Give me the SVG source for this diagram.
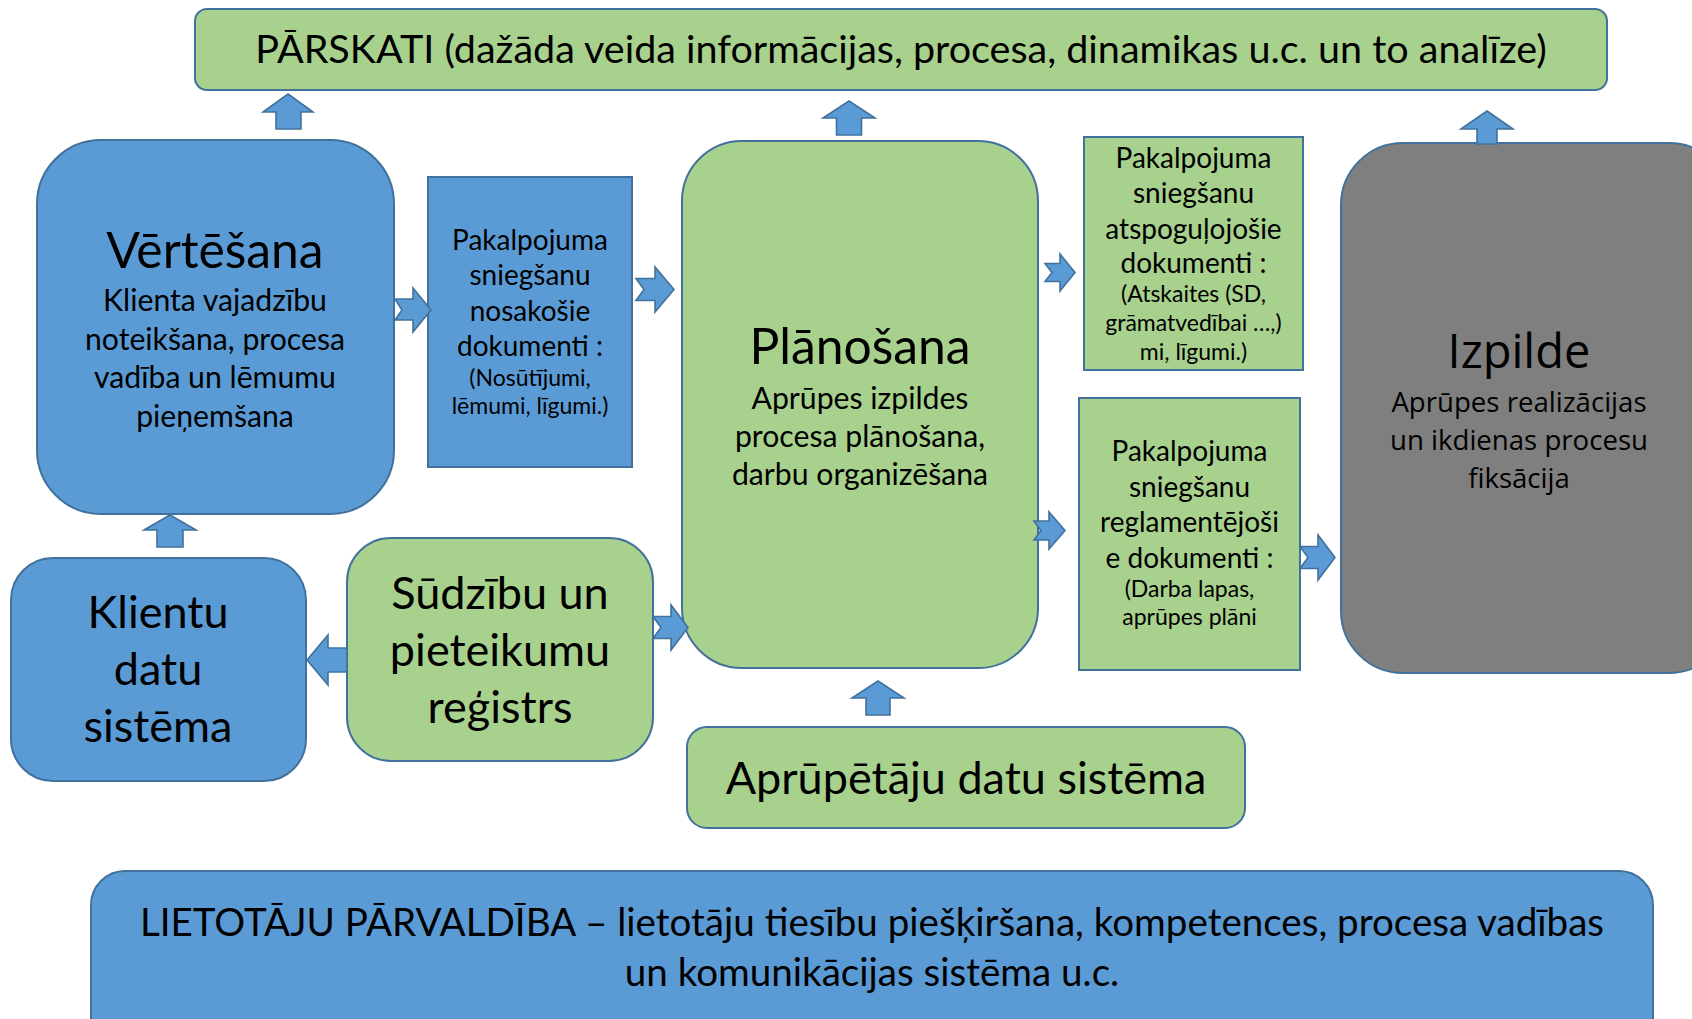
<svg xmlns="http://www.w3.org/2000/svg" width="1692" height="1019" viewBox="0 0 1692 1019">
<style>
.blue{fill:#5B9BD5;stroke:#41719C;stroke-width:2}
.green{fill:#A9D18E;stroke:#41719C;stroke-width:2}
.gray{fill:#7F7F7F;stroke:#41719C;stroke-width:2}
.arr{fill:#5B9BD5;stroke:#41719C;stroke-width:1.6;stroke-linejoin:miter}
text{font-family:Lato,"Noto Sans",sans-serif;fill:#000;text-anchor:middle}
.t1{font-size:49.8px}
.sub{font-size:30.2px}
.doc{font-size:28px}
.sm{font-size:23px}
.big{font-size:45px}
.os{font-family:"Open Sans","Noto Sans",sans-serif}
</style>
<rect width="1692" height="1019" fill="#fff"/>
<g id="parskati">
<rect class="green" x="195" y="9" width="1412" height="81" rx="12"/>
<text x="901" y="63" style="font-size:39.5px">PĀRSKATI (dažāda veida informācijas, procesa, dinamikas u.c. un to analīze)</text>
</g>
<g id="vertesana">
<rect class="blue" x="37" y="140" width="357" height="374" rx="64"/>
<text class="t1" x="215" y="268">Vērtēšana</text>
<text class="sub" x="215" y="311">Klienta vajadzību</text>
<text class="sub" x="215" y="350">noteikšana, procesa</text>
<text class="sub" x="215" y="388">vadība un lēmumu</text>
<text class="sub" x="215" y="427">pieņemšana</text>
</g>
<g id="doc-nosakosie">
<rect class="blue" x="428" y="177" width="204" height="290"/>
<text class="doc" x="530" y="250">Pakalpojuma</text>
<text class="doc" x="530" y="285">sniegšanu</text>
<text class="doc" x="530" y="321">nosakošie</text>
<text class="doc" x="530" y="356">dokumenti :</text>
<text class="sm" x="530" y="386">(Nosūtījumi,</text>
<text class="sm" x="530" y="414">lēmumi, līgumi.)</text>
</g>
<g id="planosana">
<rect class="green" x="682" y="141" width="356" height="527" rx="60"/>
<text class="t1" x="860" y="364">Plānošana</text>
<text class="sub" x="860" y="409">Aprūpes izpildes</text>
<text class="sub" x="860" y="447">procesa plānošana,</text>
<text class="sub" x="860" y="485">darbu organizēšana</text>
</g>
<g id="doc-atspogulojosie">
<rect class="green" x="1084" y="137" width="219" height="233"/>
<text class="doc" x="1193.5" y="168">Pakalpojuma</text>
<text class="doc" x="1193.5" y="203">sniegšanu</text>
<text class="doc" x="1193.5" y="239">atspoguļojošie</text>
<text class="doc" x="1193.5" y="273">dokumenti :</text>
<text class="sm" x="1193.5" y="302">(Atskaites (SD,</text>
<text class="sm" x="1193.5" y="331">grāmatvedībai …,)</text>
<text class="sm" x="1193.5" y="360">mi, līgumi.)</text>
</g>
<g id="doc-reglamentejosie">
<rect class="green" x="1079" y="398" width="221" height="272"/>
<text class="doc" x="1189.5" y="461">Pakalpojuma</text>
<text class="doc" x="1189.5" y="497">sniegšanu</text>
<text class="doc" x="1189.5" y="532">reglamentējoši</text>
<text class="doc" x="1189.5" y="568">e dokumenti :</text>
<text class="sm" x="1189.5" y="597">(Darba lapas,</text>
<text class="sm" x="1189.5" y="625">aprūpes plāni</text>
</g>
<g id="izpilde">
<rect class="gray" x="1341" y="143" width="390" height="530" rx="62"/>
<text class="os" x="1519" y="368" style="font-size:47px">Izpilde</text>
<text class="os" x="1519" y="412" style="font-size:27.6px">Aprūpes realizācijas</text>
<text class="os" x="1519" y="450" style="font-size:27.6px">un ikdienas procesu</text>
<text class="os" x="1519" y="488" style="font-size:27.6px">fiksācija</text>
</g>
<g id="klientu">
<rect class="blue" x="11" y="558" width="295" height="223" rx="42"/>
<text class="big" x="158" y="628">Klientu</text>
<text class="big" x="158" y="685">datu</text>
<text class="big" x="158" y="742">sistēma</text>
</g>
<g id="sudzibu">
<rect class="green" x="347" y="538" width="306" height="223" rx="44"/>
<text class="big" x="500" y="609">Sūdzību un</text>
<text class="big" x="500" y="666">pieteikumu</text>
<text class="big" x="500" y="723">reģistrs</text>
</g>
<g id="aprupetaju">
<rect class="green" x="687" y="727" width="558" height="101" rx="20"/>
<text x="966" y="794" style="font-size:45px">Aprūpētāju datu sistēma</text>
</g>
<g id="lietotaju">
<rect class="blue" x="91" y="871" width="1562" height="180" rx="34"/>
<text x="872" y="936" style="font-size:38.6px">LIETOTĀJU PĀRVALDĪBA – lietotāju tiesību piešķiršana, kompetences, procesa vadības</text>
<text x="872" y="986" style="font-size:38.6px">un komunikācijas sistēma u.c.</text>
</g>
<g id="connectors">
<polygon class="arr" points="288,94 313,112 301,112 301,129 276,129 276,112 263,112"/>
<polygon class="arr" points="849,101 875,118 861.5,118 861.5,135 836.5,135 836.5,118 823,118"/>
<polygon class="arr" points="1487,111 1513,129 1497,129 1497,144 1477,144 1477,129 1461,129"/>
<polygon class="arr" points="170,515 196,530 183,530 183,547 157,547 157,530 144,530"/>
<polygon class="arr" points="878,681 904,698 890,698 890,715 866,715 866,698 852,698"/>
<polygon class="arr" points="395,299 413,299 413,288 431,310 413,332 413,320 395,320 402,310"/>
<polygon class="arr" points="636,278.5 655,278.5 655,267 674,289.5 655,312 655,300.5 636,300.5 644,289.5"/>
<polygon class="arr" points="1045,263.5 1060,263.5 1060,254 1075,272.5 1060,291 1060,281.5 1045,281.5 1052,272.5"/>
<polygon class="arr" points="1034,521 1049,521 1049,512 1065,530.5 1049,549 1049,540 1034,540 1041,530.5"/>
<polygon class="arr" points="1300,546.5 1318,546.5 1318,535 1335,557.5 1318,580 1318,568.5 1300,568.5 1308,557.5"/>
<polygon class="arr" points="653,616.5 671,616.5 671,605 688,627.5 671,650 671,638.5 653,638.5 661,627.5"/>
<polygon class="arr" points="307,660 328,635 328,648 347,648 347,672 328,672 328,685"/>
</g>
</svg>
